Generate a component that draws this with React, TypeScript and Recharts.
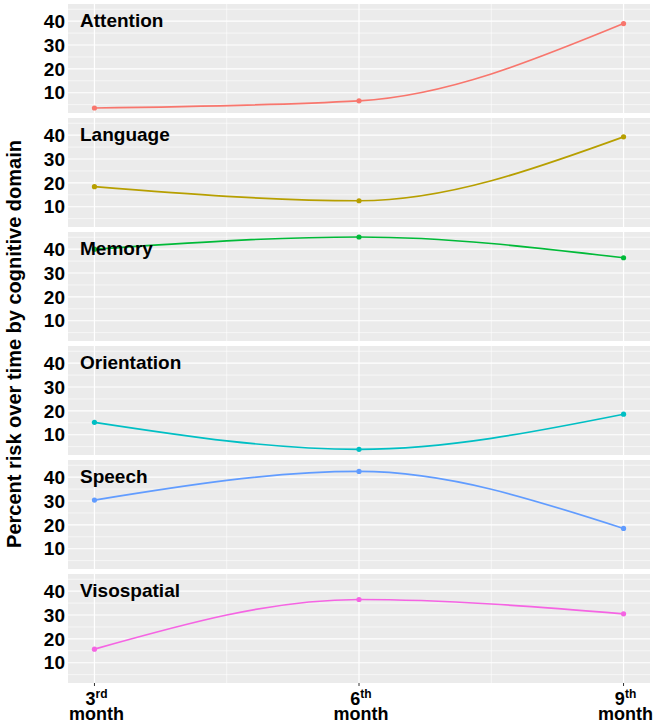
import React from "react";
import { LineChart, Line, XAxis, YAxis, CartesianGrid } from "recharts";

const months = [3, 6, 9];
const monthSuffix = ["rd", "th", "th"];

const domains = ["Attention", "Language", "Memory", "Orientation", "Speech", "Visospatial"];
const attention = [3.6, 6.6, 39];
const language = [18.4, 12.5, 39.3];
const memory = [40, 45.1, 36.4];
const orientation = [15.2, 3.9, 18.6];
const speech = [30.4, 42.4, 18.5];
const visospatial = [15.7, 36.5, 30.5];

const colors = ["#F8766D", "#B79F00", "#00BA38", "#00BFC4", "#619CFF", "#F564E3"];
const series = [attention, language, memory, orientation, speech, visospatial];

const yTicks = [10, 20, 30, 40];
const yMinor = [5, 15, 25, 35, 45];
const xMinor = [4.5, 7.5];

const FONT = "'Liberation Sans', Arial, sans-serif";
const PANEL_H = 109;
const STEP = 114;
const TOP = 4;

const MonthTick = (props: any) => {
  const { x, payload } = props;
  const i = months.indexOf(payload.value);
  // absolute baselines, measured from the panel's top
  return (
    <g transform={`translate(${x + 2},0)`}>
      <text
        x={0}
        y={PANEL_H + 22}
        textAnchor="middle"
        fontFamily={FONT}
        fontWeight="bold"
        fontSize={18}
        fill="#000"
      >
        {payload.value}
        <tspan fontSize={12} dy={-7}>
          {monthSuffix[i]}
        </tspan>
      </text>
      <text
        x={0}
        y={PANEL_H + 37}
        textAnchor="middle"
        fontFamily={FONT}
        fontWeight="bold"
        fontSize={18}
        fill="#000"
      >
        month
      </text>
    </g>
  );
};

const Panel = ({ idx }: { idx: number }) => {
  const last = idx === domains.length - 1;
  const data = months.map((m, i) => ({ month: m, value: series[idx][i] }));
  return (
    <div style={{ position: "absolute", left: 0, top: TOP + idx * STEP }}>
      <LineChart
        width={660}
        height={last ? PANEL_H + 43 : PANEL_H}
        data={data}
        margin={{ top: 0, right: 10, bottom: 0, left: 0 }}
      >
        <CartesianGrid
          fill="#EBEBEB"
          stroke="#FFFFFF"
          strokeWidth={0.6}
          horizontalValues={yMinor}
          verticalValues={xMinor}
        />
        <CartesianGrid
          stroke="#FFFFFF"
          strokeWidth={1.2}
          horizontalValues={yTicks}
          verticalValues={months}
        />
        <XAxis
          dataKey="month"
          type="number"
          domain={[2.7, 9.3]}
          ticks={months}
          allowDataOverflow
          hide={!last}
          height={43}
          axisLine={false}
          tickSize={3}
          tickMargin={0}
          tickLine={{ stroke: "#333333" }}
          tick={<MonthTick />}
          interval={0}
        />
        <YAxis
          type="number"
          domain={[1.5, 47.2]}
          ticks={yTicks}
          interval={0}
          allowDataOverflow
          width={68}
          axisLine={false}
          tickLine={false}
          tickSize={0}
          tickMargin={3}
          tick={{ fill: "#000", fontSize: 19, fontWeight: "bold", fontFamily: FONT }}
        />
        <Line
          type="monotone"
          dataKey="value"
          stroke={colors[idx]}
          strokeWidth={1.7}
          dot={{ r: 2.6, fill: colors[idx], stroke: colors[idx], strokeWidth: 0 }}
          isAnimationActive={false}
        />
      </LineChart>
      <div
        style={{
          position: "absolute",
          left: 80,
          top: 7,
          fontFamily: FONT,
          fontWeight: "bold",
          fontSize: 19,
          lineHeight: "19px",
          color: "#000",
          whiteSpace: "nowrap",
        }}
      >
        {domains[idx]}
      </div>
    </div>
  );
};

export default function App() {
  return (
    <div
      style={{
        position: "absolute",
        left: 0,
        top: 0,
        width: 660,
        height: 726,
        background: "#FFFFFF",
        overflow: "hidden",
      }}
    >
      {domains.map((d, i) => (
        <Panel key={d} idx={i} />
      ))}
      <div
        style={{
          position: "absolute",
          left: 14,
          top: 344,
          transform: "translate(-50%, -50%) rotate(-90deg)",
          fontFamily: FONT,
          fontWeight: "bold",
          fontSize: 20,
          whiteSpace: "nowrap",
          color: "#000",
        }}
      >
        Percent risk over time by cognitive domain
      </div>
    </div>
  );
}
